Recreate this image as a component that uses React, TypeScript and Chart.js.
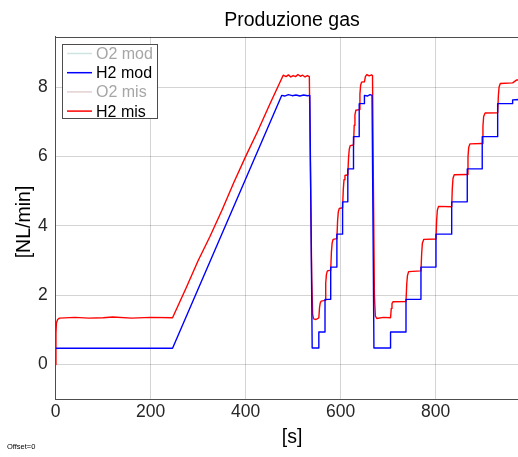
import React, { useEffect, useRef } from "react";
import { Chart, registerables } from "chart.js";
Chart.register(...registerables);

const TITLE = "Produzione gas";
const X_LABEL = "[s]";
const Y_LABEL = "[NL/min]";
const X_TICKS = [0, 200, 400, 600, 800];
const Y_TICKS = [0, 2, 4, 6, 8];
const LEGEND_LABELS = ["O2 mod", "H2 mod", "O2 mis", "H2 mis"];
const LEGEND_HIDDEN = [true, false, true, false];

// O2 series are hidden in the original figure (grey legend entries)
const o2ModT: number[] = [];
const o2ModV: number[] = [];
const o2MisT: number[] = [];
const o2MisV: number[] = [];

// H2 model (blue)
const h2ModT = [
  0, 246, 476, 482, 490, 498, 506, 514, 522, 530, 535, 540,
  554, 554, 567, 567, 579, 579, 592, 592, 604, 604, 615, 615,
  627, 627, 639, 639, 650, 650, 656, 662, 666, 670,
  705, 705, 737.5, 737.5, 769, 769, 800.6, 800.6, 833.7, 833.7,
  866.5, 866.5, 898, 898, 930.5, 930.5, 962, 962, 975, 1000,
];
const h2ModV = [
  0.47, 0.47, 7.76, 7.74, 7.78, 7.75, 7.77, 7.74, 7.77, 7.75, 7.76, 0.48,
  0.48, 0.94, 0.94, 1.88, 1.88, 2.81, 2.81, 3.76, 3.76, 4.69, 4.69, 5.64,
  5.64, 6.57, 6.57, 7.52, 7.52, 7.76, 7.74, 7.78, 7.76, 0.48,
  0.48, 0.94, 0.94, 1.88, 1.88, 2.81, 2.81, 3.76, 3.76, 4.69,
  4.69, 5.64, 5.64, 6.57, 6.57, 7.52, 7.52, 7.63, 7.64, 7.63,
];

// H2 measured (red)
const h2MisT = [
  0, 0.5, 1.5, 4, 8, 40, 70, 100, 120, 160, 200, 246,
  275, 300, 325, 350, 375, 400, 425, 450, 479,
  485, 490, 495, 500, 505, 510, 515, 520, 525, 530, 534,
  536, 539, 541, 543, 548, 552, 554,
  555.5, 557, 559, 567, 568.5, 570, 572, 579, 580.5, 582, 584, 592,
  593.5, 595, 597, 604, 605.5, 607, 609, 615, 616.5, 618, 620, 627,
  628.5, 630, 632, 639, 640.5, 642, 644, 650, 652, 655, 660, 665, 667,
  669, 671, 673, 676, 690, 705,
  706.5, 708, 710, 737.5, 739, 740.5, 743, 769, 770.5, 772, 775, 800.6,
  802, 803.5, 806, 833.7, 835, 836.5, 839, 866.5, 868, 869.5, 872, 898,
  899.5, 901, 904, 930.5, 932, 933.5, 936, 962, 970, 985, 1000,
];
const h2MisV = [
  0, 0.9, 1.2, 1.3, 1.34, 1.36, 1.34, 1.35, 1.37, 1.34, 1.36, 1.35,
  2.22, 3.0, 3.7, 4.45, 5.25, 6.0, 6.72, 7.48, 8.34,
  8.3, 8.35, 8.29, 8.33, 8.3, 8.36, 8.31, 8.34, 8.29, 8.33, 8.3,
  6.0, 2.5, 1.45, 1.32, 1.3, 1.33, 1.35,
  1.65, 1.78, 1.83, 1.85, 2.35, 2.6, 2.7, 2.72, 3.25, 3.5, 3.61, 3.63,
  4.15, 4.4, 4.5, 4.52, 5.05, 5.33, 5.45, 5.47, 5.95, 6.2, 6.31, 6.33,
  6.9, 7.2, 7.33, 7.35, 7.8, 8.05, 8.14, 8.15, 8.3, 8.36, 8.32, 8.35, 8.33,
  5.0, 2.0, 1.4, 1.33, 1.36, 1.35,
  1.62, 1.76, 1.81, 1.82, 2.3, 2.56, 2.68, 2.7, 3.2, 3.5, 3.61, 3.62,
  4.15, 4.45, 4.56, 4.55, 5.08, 5.37, 5.47, 5.48, 5.98, 6.26, 6.36, 6.37,
  6.87, 7.15, 7.25, 7.26, 7.75, 8.0, 8.1, 8.12, 8.2, 8.21, 8.22,
];

const FONT = '"Liberation Sans", Arial, Helvetica, sans-serif';

const toPoints = (t: number[], v: number[]) => t.map((x, i) => ({ x, y: v[i] }));

const LEGEND_LINE_COLORS = ["#cfe3e3", "#0000ff", "#e3d0d0", "#ff0000"];
const LEGEND_TEXT_COLORS = ["#a6a6a6", "#000000", "#a6a6a6", "#000000"];

const decorPlugin = {
  id: "decor",
  afterDraw(chart: any) {
    const { ctx, chartArea: ca } = chart;
    ctx.save();
    // top box border
    ctx.strokeStyle = "#4d4d4d";
    ctx.lineWidth = 1;
    ctx.beginPath();
    ctx.moveTo(ca.left, Math.round(ca.top) + 0.5);
    ctx.lineTo(ca.right, Math.round(ca.top) + 0.5);
    ctx.stroke();

    // title
    ctx.fillStyle = "#000";
    ctx.font = `19.5px ${FONT}`;
    ctx.textAlign = "center";
    ctx.textBaseline = "middle";
    ctx.fillText(TITLE, (ca.left + ca.right) / 2, 21);

    // axis titles
    ctx.fillText(X_LABEL, (ca.left + ca.right) / 2, 438);
    ctx.save();
    ctx.translate(25, (ca.top + ca.bottom) / 2 + 4);
    ctx.rotate(-Math.PI / 2);
    ctx.fillText(Y_LABEL, 0, 0);
    ctx.restore();

    // legend
    const bx = 62.5, by = 44.5, bw = 95, bh = 74;
    ctx.fillStyle = "#fff";
    ctx.fillRect(bx, by, bw, bh);
    ctx.strokeStyle = "#4d4d4d";
    ctx.strokeRect(bx, by, bw, bh);
    ctx.font = `16px ${FONT}`;
    ctx.textAlign = "left";
    ctx.textBaseline = "middle";
    LEGEND_LABELS.forEach((lab, i) => {
      const cy = 53.5 + i * 19.2;
      ctx.strokeStyle = LEGEND_LINE_COLORS[i];
      ctx.lineWidth = 1.5;
      ctx.beginPath();
      ctx.moveTo(67, cy);
      ctx.lineTo(92, cy);
      ctx.stroke();
      ctx.fillStyle = LEGEND_TEXT_COLORS[i];
      ctx.fillText(lab, 96, cy + 1);
    });

    // offset note
    ctx.fillStyle = "#000";
    ctx.font = `7.5px ${FONT}`;
    ctx.textAlign = "left";
    ctx.fillText("Offset=0", 7, 447);
    ctx.restore();
  },
};

export default function App() {
  const ref = useRef<HTMLCanvasElement>(null);
  useEffect(() => {
    if (!ref.current) return;
    const chart = new Chart(ref.current, {
      type: "line",
      data: {
        datasets: [
          { label: LEGEND_LABELS[0], data: toPoints(o2ModT, o2ModV), borderColor: LEGEND_LINE_COLORS[0], hidden: LEGEND_HIDDEN[0] },
          { label: LEGEND_LABELS[1], data: toPoints(h2ModT, h2ModV), borderColor: "#0000ff", borderWidth: 1.4, pointRadius: 0, tension: 0 },
          { label: LEGEND_LABELS[2], data: toPoints(o2MisT, o2MisV), borderColor: LEGEND_LINE_COLORS[2], hidden: LEGEND_HIDDEN[2] },
          { label: LEGEND_LABELS[3], data: toPoints(h2MisT, h2MisV), borderColor: "#ff0000", borderWidth: 1.4, pointRadius: 0, tension: 0 },
        ],
      },
      options: {
        animation: false,
        responsive: false,
        events: [],
        layout: { padding: { top: 36.7, right: 545 - 528.3, left: 0, bottom: 0 } },
        plugins: { legend: { display: false }, title: { display: false }, tooltip: { enabled: false } },
        elements: { point: { radius: 0 }, line: { borderJoinStyle: "round" } },
        scales: {
          x: {
            type: "linear",
            min: 0,
            max: 995,
            afterBuildTicks: (s: any) => { s.ticks = X_TICKS.map((v) => ({ value: v })); },
            afterFit: (s: any) => { s.height = 457 - 399.3; },
            ticks: { font: { size: 17.5, family: FONT }, color: "#262626", padding: 2, maxRotation: 0 },
            grid: { color: "rgba(38,38,38,0.2)", drawTicks: false, lineWidth: 1 },
            border: { color: "#4d4d4d", width: 1 },
            title: { display: false },
          },
          y: {
            type: "linear",
            min: -1,
            max: 9.45,
            afterBuildTicks: (s: any) => { s.ticks = Y_TICKS.map((v) => ({ value: v })); },
            afterFit: (s: any) => { s.width = 55.7; },
            ticks: { font: { size: 17.5, family: FONT }, color: "#262626", padding: 8 },
            grid: { color: "rgba(38,38,38,0.2)", drawTicks: false, lineWidth: 1 },
            border: { color: "#4d4d4d", width: 1 },
            title: { display: false },
          },
        },
      },
      plugins: [decorPlugin],
    } as any);
    return () => chart.destroy();
  }, []);
  return (
    <div style={{ position: "fixed", left: 0, top: 0, width: 518, height: 457, overflow: "hidden", background: "#fff" }}>
      <canvas ref={ref} width={545} height={457} style={{ display: "block", width: 545, height: 457 }} />
    </div>
  );
}
